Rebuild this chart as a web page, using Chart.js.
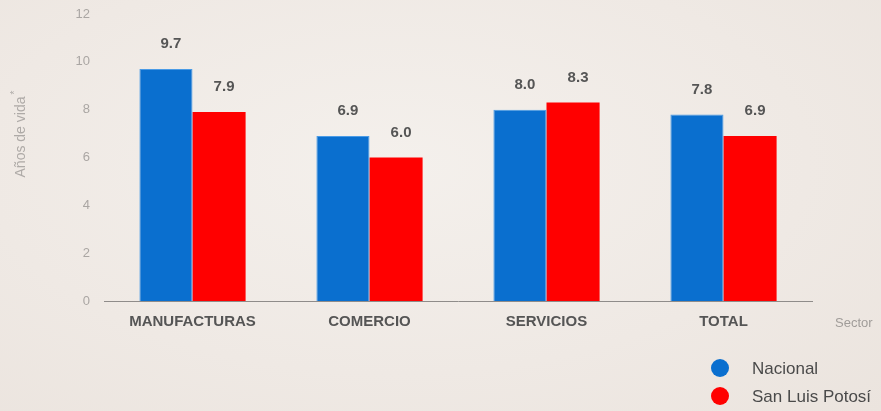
<!DOCTYPE html>
<html>
<head>
<meta charset="utf-8">
<script src="https://cdn.jsdelivr.net/npm/chart.js@4"></script>
<style>
  html, body { margin: 0; padding: 0; }
  body {
    width: 881px; height: 411px; overflow: hidden;
    background: radial-gradient(ellipse at 45% 40%, #f4f0ec 0%, #efe9e4 60%, #ebe4de 100%);
  }
  canvas { display: block; }
</style>
</head>
<body>
<canvas id="c" width="881" height="411"></canvas>
<script>
// Sectors and life expectancy (years) of establishments
const categories = ['MANUFACTURAS', 'COMERCIO', 'SERVICIOS', 'TOTAL'];
const nacional = [9.7, 6.9, 8.0, 7.8];
const sanLuisPotosi = [7.9, 6.0, 8.3, 6.9];
const seriesNames = ['Nacional', 'San Luis Potosí'];
const yTicks = [0, 2, 4, 6, 8, 10, 12];

const BLUE = '#0a6fcf';
const RED = '#ff0000';
const FONT = '"Liberation Sans", Arial, sans-serif';

// Value labels above each bar
const valueLabels = {
  id: 'valueLabels',
  afterDatasetsDraw(chart) {
    const ctx = chart.ctx;
    ctx.save();
    ctx.font = 'bold 15px ' + FONT;
    ctx.fillStyle = '#555555';
    ctx.textAlign = 'center';
    ctx.textBaseline = 'middle';
    chart.data.datasets.forEach((ds, i) => {
      chart.getDatasetMeta(i).data.forEach((bar, j) => {
        ctx.fillText(ds.data[j].toFixed(1), bar.x + 5, bar.y - 25);
      });
    });
    ctx.restore();
  }
};

// Axis titles and circular legend
const decorations = {
  id: 'decorations',
  afterDraw(chart) {
    const ctx = chart.ctx;
    ctx.save();
    // vertical axis title
    ctx.translate(21, 134);
    ctx.rotate(-Math.PI / 2);
    ctx.fillStyle = '#aeaaa7';
    ctx.font = '14px ' + FONT;
    ctx.textAlign = 'center';
    ctx.textBaseline = 'middle';
    ctx.fillText('Años de vida', -3, 0);
    const w = ctx.measureText('Años de vida').width;
    ctx.font = '10px ' + FONT;
    ctx.fillText('*', -3 + w / 2 + 4, -6);
    ctx.restore();

    ctx.save();
    ctx.fillStyle = '#a09c99';
    ctx.font = '13px ' + FONT;
    ctx.textBaseline = 'middle';
    ctx.fillText('Sector', 835, 323);

    const colors = [BLUE, RED];
    const ys = [368, 396];
    ctx.font = '17px ' + FONT;
    seriesNames.forEach((name, i) => {
      ctx.beginPath();
      ctx.arc(720, ys[i], 9, 0, Math.PI * 2);
      ctx.fillStyle = colors[i];
      ctx.fill();
      ctx.fillStyle = '#4a4a4a';
      ctx.fillText(name, 752, ys[i] + 1);
    });
    ctx.restore();
  }
};

new Chart(document.getElementById('c'), {
  type: 'bar',
  data: {
    labels: categories,
    datasets: [
      { label: seriesNames[0], data: nacional, backgroundColor: BLUE, borderColor: '#4a9be6', borderWidth: 1 },
      { label: seriesNames[1], data: sanLuisPotosi, backgroundColor: RED, borderWidth: 0 }
    ]
  },
  options: {
    responsive: false,
    devicePixelRatio: 1,
    animation: false,
    layout: { padding: { left: 0, right: 69, top: 14, bottom: 70 } },
    datasets: { bar: { barPercentage: 1, categoryPercentage: 0.6 } },
    plugins: { legend: { display: false }, tooltip: { enabled: false } },
    scales: {
      x: {
        clip: false,
        grid: { display: false, drawTicks: false },
        border: { display: true, color: '#8f8c8a', width: 1 },
        ticks: {
          color: '#555555',
          font: { family: FONT, size: 15, weight: 'bold' },
          padding: 12,
          maxRotation: 0
        },
        afterFit(scale) { scale.height = 40; scale.paddingLeft = 0; scale.paddingRight = 0; }
      },
      y: {
        min: 0,
        max: 12,
        clip: false,
        grid: { display: false, drawTicks: false },
        border: { display: false },
        afterBuildTicks(scale) { scale.ticks = yTicks.map(v => ({ value: v })); },
        ticks: {
          color: '#aaa6a3',
          font: { family: FONT, size: 13 },
          padding: 14
        },
        afterFit(scale) { scale.width = 104; scale.paddingTop = 0; scale.paddingBottom = 0; }
      }
    }
  },
  plugins: [valueLabels, decorations]
});
</script>
</body>
</html>
